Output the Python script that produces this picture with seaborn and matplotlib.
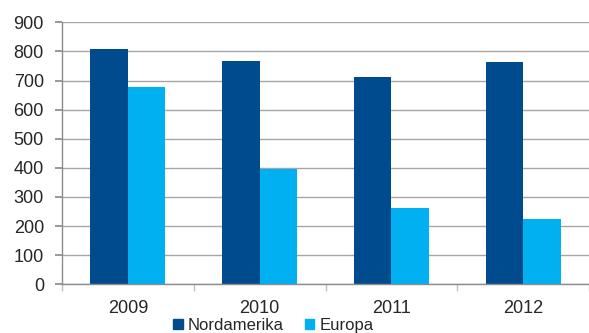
import matplotlib
matplotlib.use("Agg")
import matplotlib.pyplot as plt
import seaborn as sns
import pandas as pd

years = ["2009", "2010", "2011", "2012"]
nordamerika = [808, 768, 711, 763]
europa = [678, 395, 263, 225]
series_names = ["Nordamerika", "Europa"]
colors = ["#004B8D", "#00B0F0"]

df = pd.DataFrame({
    "year": years * 2,
    "value": nordamerika + europa,
    "series": [series_names[0]] * len(years) + [series_names[1]] * len(years),
})

sns.set_theme(style="white")
plt.rcParams["font.family"] = ["Liberation Sans", "DejaVu Sans"]

fig = plt.figure(figsize=(5.89, 3.33), dpi=100)
ax = fig.add_axes([62 / 589, 1 - 284.3 / 333, 1 - 62 / 589, (284.3 - 22.3) / 333])

sns.barplot(data=df, x="year", y="value", hue="series", palette=colors,
            width=0.57, ax=ax, saturation=1, linewidth=0)

ax.set_ylim(0, 900)
ax.set_xlim(-0.5, 3.5)
ax.set_yticks(range(0, 901, 100))
ax.yaxis.grid(True, color="#A6A6A6", linewidth=1)
ax.set_axisbelow(True)
ax.set_xlabel("")
ax.set_ylabel("")
for s in ["top", "right"]:
    ax.spines[s].set_visible(False)
for s in ["left", "bottom"]:
    ax.spines[s].set_color("#8C8C8C")
    ax.spines[s].set_linewidth(1)

ax.tick_params(axis="y", which="major", length=5, color="#8C8C8C", labelsize=13, pad=8, left=True)
ax.tick_params(axis="x", which="major", length=0, labelsize=13, pad=11)
ax.set_xticks([-0.5, 0.5, 1.5, 2.5, 3.5], minor=True)
ax.tick_params(axis="x", which="minor", length=5, color="#C0C0C0", bottom=True)

ax.get_legend().remove()
handles = [plt.Rectangle((0, 0), 1, 1, color=c) for c in colors]
fig.legend(handles, series_names, loc="center", bbox_to_anchor=(273.5 / 589, 1 - 325.5 / 333),
           ncol=2, frameon=False, fontsize=12, handlelength=0.55, handleheight=0.55,
           handletextpad=0.3, columnspacing=1.3, borderpad=0)

fig.savefig("out.png", dpi=100)
